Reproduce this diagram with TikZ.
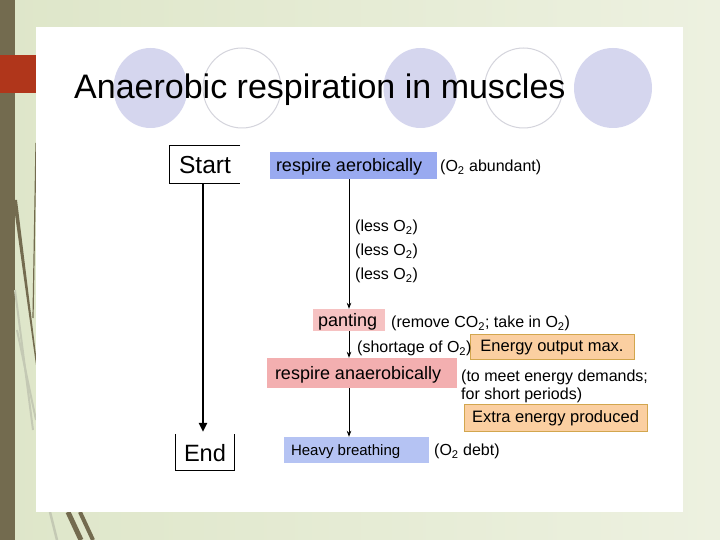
\documentclass[tikz,border=0pt]{standalone}
\usepackage{fontspec}
\setmainfont{Liberation Sans}
\usetikzlibrary{arrows.meta}
\definecolor{bgA}{HTML}{DEE6C9}
\definecolor{bgB}{HTML}{EDF1E0}
\definecolor{olive}{HTML}{736B4F}
\definecolor{brick}{HTML}{B0361B}
\definecolor{lav}{HTML}{D5D6EE}
\definecolor{lavline}{HTML}{D4D4DC}
\definecolor{blueA}{HTML}{99AAF0}
\definecolor{blueB}{HTML}{B5C3F3}
\definecolor{pinkA}{HTML}{F6C2C2}
\definecolor{pinkB}{HTML}{F3AFB0}
\definecolor{orfill}{HTML}{FBCFA1}
\definecolor{orline}{HTML}{D2A64E}
\definecolor{lightdeco}{HTML}{C4C9B4}
\tikzset{
  lbl/.style={inner sep=0pt, anchor=west, font=\fontsize{16}{19}\selectfont},
  lblone/.style={lbl, text height=11pt, text depth=0pt},
  boxtxt/.style={inner sep=0pt, text height=13pt, text depth=0pt, font=\fontsize{18}{21}\selectfont},
  orbox/.style={fill=orfill, draw=orline, line width=0.9pt, inner sep=0pt, text height=12pt, text depth=2pt, font=\fontsize{16.5}{19}\selectfont},
  thinarrow/.style={line width=0.8pt, -{Stealth[length=6pt,width=4.5pt]}},
  circfill/.style={fill=lav, draw=none},
  circline/.style={draw=lavline, line width=1pt, fill=white},
}
\begin{document}
\begin{tikzpicture}[x=1pt,y=-1pt]
\useasboundingbox (0,0) rectangle (720,540);
% background
\shade[left color=bgA, right color=bgB] (0,0) rectangle (720,540);
\fill[olive] (0,0) rectangle (15,540);
% left decorations
\fill[olive] (13,200) -- (17,200) -- (36,355) -- (36,365) -- cycle;
\draw[olive, line width=1.2pt] (36,143) -- (33,318);
\draw[lightdeco, line width=2pt] (15,290) -- (33,430);
\draw[lightdeco, line width=2pt] (17,330) -- (36,420);
% bottom decorations
\draw[lightdeco, line width=2.5pt] (50,512) -- (57,540);
\draw[olive, line width=5pt] (68,512) -- (81,540);
\draw[olive, line width=4pt] (80,512) -- (93,540);
% white panel
\fill[white] (36,27) rectangle (683,512);
\fill[brick] (0,55) rectangle (36,93);
% title circles
\fill[circfill] (150.5,88) ellipse (37 and 40);
\draw[circline] (242,88) ellipse (39 and 40);
\fill[circfill] (420.5,88) ellipse (37 and 40);
\draw[circline] (523.5,88) ellipse (39 and 40);
\fill[circfill] (613,88) ellipse (39 and 40);
\node[inner sep=0pt, anchor=base west, font=\fontsize{34}{40}\selectfont] (title) at (74,99) {Anaerobic respiration in muscles};
% start / end
\node[inner sep=0pt, minimum width=70pt, minimum height=37pt, text height=19pt, text depth=0pt, font=\fontsize{24.6}{28}\selectfont] (start) at (205,164.5) {Start};
\draw[line width=0.8pt] (start.north east) -- (start.north west) -- (start.south west) -- (start.south east);
\node[inner sep=0pt, minimum width=58pt, minimum height=36pt, text height=19pt, text depth=0pt, font=\fontsize{23.6}{28}\selectfont] (end) at (205,452) {End};
\draw[line width=0.8pt] (end.north west) -- (end.south west) -- (end.south east) -- (end.north east);
\draw[line width=2.6pt, -{Triangle[length=9pt,width=8pt]}, shorten >=2pt] ([xshift=-2pt]start.south) -- ([xshift=-2pt]end.north);
% flow boxes
\node[boxtxt, fill=blueA, minimum width=167pt, minimum height=27pt] (aero) at (353.5,165.5) {\makebox[155pt][l]{respire aerobically}};
\node[boxtxt, fill=pinkA, minimum width=72pt, minimum height=22pt] (pant) at (349,320) {\makebox[62pt][l]{panting}};
\node[boxtxt, fill=pinkB, minimum width=190pt, minimum height=30pt] (anaer) at (362,373) {\makebox[174pt][l]{respire anaerobically}};
\node[boxtxt, fill=blueB, minimum width=145pt, minimum height=26pt, text height=11pt, font=\fontsize{15}{18}\selectfont] (heavy) at (356.5,450) {\makebox[131pt][l]{Heavy breathing}};
\node[orbox, minimum width=164pt, minimum height=25pt] (emax) at (552,346.5) {Energy output max.};
\node[orbox, minimum width=183pt, minimum height=27pt] (extra) at (555.5,417.5) {Extra energy produced};
% labels
\node[lblone] (abund) at (440,166) {(O\textsubscript{2} abundant)};
\node[lblone] (less1) at (355,226) {(less O\textsubscript{2})};
\node[lblone] (less2) at (355,250) {(less O\textsubscript{2})};
\node[lblone] (less3) at (355,274) {(less O\textsubscript{2})};
\node[lblone] (remove) at (391,322) {(remove CO\textsubscript{2}; take in O\textsubscript{2})};
\node[lblone] (short) at (357,347) {(shortage of O\textsubscript{2})};
\node[lbl, align=left, font=\fontsize{16}{18}\selectfont] (meet) at (461,386) {(to meet energy demands;\\for short periods)};
\node[lblone] (debt) at (434,450) {(O\textsubscript{2} debt)};
% connectors
\draw[thinarrow] (aero.south -| pant.north) -- (pant.north);
\draw[thinarrow] (pant.south) -- (pant.south |- anaer.north);
\draw[thinarrow] (pant.south |- anaer.south) -- (pant.south |- heavy.north);
\end{tikzpicture}
\end{document}
